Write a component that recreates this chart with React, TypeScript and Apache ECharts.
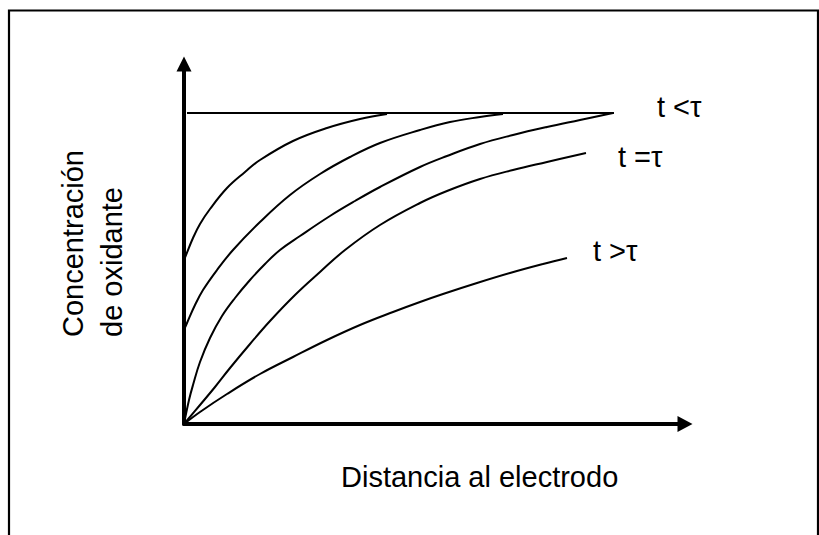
import React, { useEffect, useRef } from "react";
import * as echarts from "echarts";

// Distance (x) / concentration (y) profiles, arbitrary units
const curve1X = [0, 2, 9, 16, 26, 43, 61, 76, 109, 143, 176, 203];
const curve1Y = [164, 169, 186, 200, 215, 236, 252, 264, 283, 296, 305, 310];
const curve2X = [0, 3, 11, 19, 33, 49, 76, 106, 136, 166, 196, 236, 266, 296, 319];
const curve2Y = [94, 101, 119, 134, 154, 174, 202, 229, 250, 267, 281, 294, 302, 307, 310];
const curve3X = [0, 5, 9, 16, 26, 38, 51, 66, 81, 96, 116, 146, 171, 196, 236, 263, 296, 329, 363, 396, 429];
const curve3Y = [0, 24, 39, 62, 86, 108, 126, 144, 160, 174, 188, 208, 223, 237, 257, 268, 280, 289, 297, 304, 311];
const curve4X = [0, 16, 31, 46, 66, 86, 111, 136, 161, 196, 236, 263, 296, 329, 363, 402];
const curve4Y = [0, 19, 37, 56, 80, 103, 129, 152, 174, 199, 221, 233, 245, 254, 262, 271];
const curve5X = [0, 16, 43, 76, 109, 143, 176, 209, 236, 259, 293, 326, 359, 383];
const curve5Y = [0, 12, 30, 50, 67, 84, 99, 112, 122, 130, 141, 151, 160, 166];
const plateauX = [3, 430];
const plateauY = [311, 311];

const curveLabels = ["t <τ", "t =τ", "t >τ"];
const yTitleLines = ["Concentración", "de oxidante"];
const xTitle = "Distancia al electrodo";

const zip = (xs: number[], ys: number[]) => xs.map((x, i) => [x, ys[i]]);

export default function App() {
  const ref = useRef<HTMLDivElement>(null);
  useEffect(() => {
    if (!ref.current) return;
    const chart = echarts.init(ref.current, null, { renderer: "svg" });
    const font = "'Liberation Sans', Arial, sans-serif";
    const fs = 29;
    const curveStyle = { color: "#000", width: 2 };
    const curves = [
      zip(curve1X, curve1Y),
      zip(curve2X, curve2Y),
      zip(curve3X, curve3Y),
      zip(curve4X, curve4Y),
      zip(curve5X, curve5Y),
    ];
    const axisCommon = {
      type: "value" as const,
      axisTick: { show: false },
      axisLabel: { show: false },
      splitLine: { show: false },
    };
    const label = (text: string, x: number, y: number, rotation = 0) => ({
      type: "text",
      x,
      y,
      rotation,
      style: { text, font: `${fs}px ${font}`, fill: "#000", textAlign: "left", textVerticalAlign: "middle" },
    });
    chart.setOption({
      animation: false,
      backgroundColor: "#fff",
      grid: { left: 184, right: 134, top: 64, bottom: 111 },
      xAxis: {
        ...axisCommon,
        min: 0,
        max: 501,
        axisLine: {
          show: true,
          symbol: ["none", "triangle"],
          symbolSize: [16, 15],
          lineStyle: { color: "#000", width: 4 },
        },
      },
      yAxis: {
        ...axisCommon,
        min: 0,
        max: 360,
        axisLine: {
          show: true,
          symbol: ["none", "triangle"],
          symbolSize: [15, 15],
          lineStyle: { color: "#000", width: 4 },
        },
      },
      series: [
        {
          type: "line",
          data: zip(plateauX, plateauY),
          showSymbol: false,
          lineStyle: { color: "#000", width: 1.8 },
        },
        ...curves.map((d) => ({
          type: "line",
          data: d,
          showSymbol: false,
          smooth: 0.4,
          lineStyle: curveStyle,
        })),
      ],
      graphic: [
        {
          type: "rect",
          shape: { x: 9, y: 10.5, width: 809, height: 540 },
          style: { fill: "none", stroke: "#000", lineWidth: 2.2 },
          silent: true,
        },
        label(curveLabels[0], 657, 106.7),
        label(curveLabels[1], 618, 156.7),
        label(curveLabels[2], 593, 250.7),
        label(xTitle, 341, 477),
        label(yTitleLines[0], 72.7, 337, Math.PI / 2),
        label(yTitleLines[1], 111.7, 337, Math.PI / 2),
      ],
    });
    return () => chart.dispose();
  }, []);
  return (
    <div
      ref={ref}
      style={{ position: "absolute", left: 0, top: 0, width: 819, height: 535 }}
    />
  );
}
